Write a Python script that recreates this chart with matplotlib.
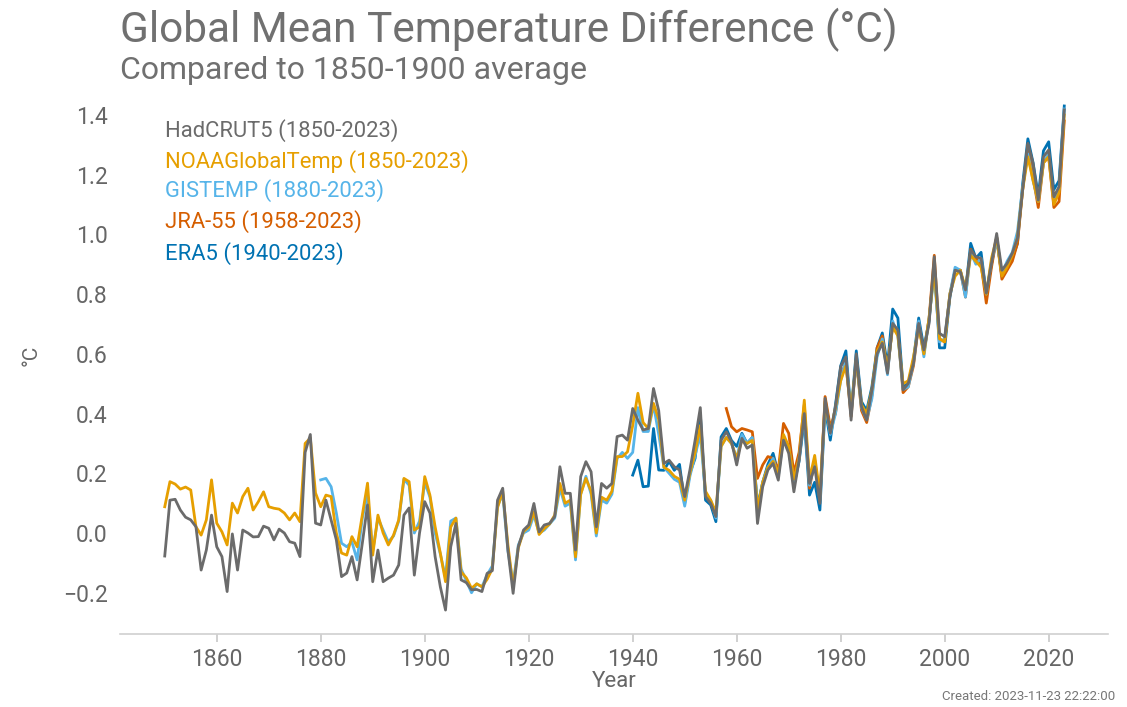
import numpy as np
import matplotlib
matplotlib.use("Agg")
import matplotlib.pyplot as plt

plt.rcParams['font.family'] = ['Roboto', 'DejaVu Sans']

years_had = list(range(1850, 2024))
hadcrut5 = [
    -0.077, 0.110, 0.113, 0.077, 0.053, 0.044, 0.021, -0.124, -0.057, 0.060,
    -0.046, -0.079, -0.196, -0.003, -0.124, 0.010, 0.000, -0.013, -0.012, 0.023,
    0.016, -0.023, 0.013, 0.000, -0.029, -0.034, -0.079, 0.270, 0.330, 0.033,
    0.027, 0.110, 0.044, -0.023, -0.146, -0.134, -0.079, -0.157, -0.034, 0.094,
    -0.163, -0.057, -0.163, -0.151, -0.141, -0.107, 0.060, 0.084, -0.141, 0.000,
    0.105, 0.067, -0.079, -0.180, -0.258, -0.046, 0.032, -0.157, -0.166, -0.190,
    -0.189, -0.196, -0.135, -0.126, 0.110, 0.150, -0.057, -0.202, -0.046, 0.010,
    0.027, 0.099, 0.004, 0.027, 0.032, 0.055, 0.222, 0.133, 0.133, -0.057,
    0.189, 0.239, 0.205, 0.021, 0.166, 0.150, 0.166, 0.323, 0.328, 0.311,
    0.417, 0.378, 0.345, 0.350, 0.484, 0.410, 0.233, 0.244, 0.222, 0.211,
    0.122, 0.211, 0.311, 0.420, 0.122, 0.099, 0.055, 0.311, 0.339, 0.306,
    0.228, 0.317, 0.284, 0.295, 0.032, 0.155, 0.211, 0.233, 0.177, 0.311,
    0.267, 0.138, 0.244, 0.400, 0.166, 0.222, 0.099, 0.451, 0.334, 0.423,
    0.557, 0.590, 0.378, 0.600, 0.423, 0.378, 0.479, 0.600, 0.635, 0.535,
    0.702, 0.680, 0.479, 0.501, 0.568, 0.702, 0.613, 0.702, 0.925, 0.669,
    0.657, 0.791, 0.880, 0.875, 0.814, 0.948, 0.925, 0.920, 0.803, 0.903,
    1.003, 0.880, 0.903, 0.937, 0.987, 1.149, 1.305, 1.238, 1.115, 1.260,
    1.283, 1.126, 1.160, 1.417,
]

years_noaa = list(range(1850, 2024))
noaa = [
    0.088, 0.172, 0.164, 0.147, 0.154, 0.144, 0.021, -0.007, 0.044, 0.178,
    0.033, 0.004, -0.040, 0.100, 0.067, 0.122, 0.150, 0.077, 0.105, 0.138,
    0.088, 0.083, 0.080, 0.067, 0.044, 0.067, 0.038, 0.300, 0.318, 0.134,
    0.088, 0.127, 0.122, 0.000, -0.067, -0.074, -0.012, -0.046, 0.060, 0.167,
    -0.074, 0.060, 0.000, -0.040, -0.007, 0.044, 0.183, 0.172, 0.010, 0.021,
    0.189, 0.127, 0.021, -0.067, -0.163, 0.020, 0.050, -0.130, -0.150, -0.185,
    -0.170, -0.180, -0.155, -0.120, 0.085, 0.140, -0.040, -0.180, -0.050, 0.005,
    0.020, 0.070, -0.005, 0.015, 0.030, 0.060, 0.166, 0.100, 0.110, -0.080,
    0.130, 0.183, 0.140, 0.000, 0.120, 0.110, 0.140, 0.256, 0.256, 0.272,
    0.360, 0.468, 0.370, 0.350, 0.434, 0.380, 0.220, 0.210, 0.190, 0.180,
    0.110, 0.200, 0.270, 0.360, 0.140, 0.110, 0.070, 0.290, 0.320, 0.300,
    0.250, 0.310, 0.300, 0.310, 0.080, 0.170, 0.220, 0.240, 0.200, 0.330,
    0.290, 0.180, 0.250, 0.445, 0.180, 0.260, 0.130, 0.440, 0.340, 0.420,
    0.510, 0.560, 0.410, 0.580, 0.430, 0.400, 0.480, 0.610, 0.640, 0.550,
    0.690, 0.660, 0.500, 0.510, 0.590, 0.690, 0.600, 0.720, 0.880, 0.650,
    0.640, 0.800, 0.860, 0.880, 0.820, 0.930, 0.910, 0.890, 0.800, 0.920,
    0.990, 0.860, 0.890, 0.930, 0.990, 1.150, 1.260, 1.180, 1.110, 1.240,
    1.260, 1.100, 1.140, 1.400,
]

years_gis = list(range(1880, 2024))
gistemp = [
    0.178, 0.183, 0.155, 0.067, -0.034, -0.046, -0.030, -0.090, 0.050, 0.130,
    -0.060, 0.050, 0.010, -0.030, -0.010, 0.040, 0.180, 0.160, 0.000, 0.040,
    0.170, 0.120, 0.000, -0.070, -0.150, 0.040, 0.050, -0.120, -0.160, -0.200,
    -0.170, -0.180, -0.140, -0.110, 0.090, 0.130, -0.060, -0.170, -0.040, 0.000,
    0.010, 0.060, 0.000, 0.010, 0.030, 0.050, 0.150, 0.090, 0.100, -0.090,
    0.130, 0.190, 0.130, -0.010, 0.110, 0.100, 0.130, 0.250, 0.270, 0.250,
    0.270, 0.420, 0.340, 0.340, 0.430, 0.330, 0.220, 0.200, 0.180, 0.170,
    0.090, 0.190, 0.260, 0.330, 0.130, 0.110, 0.050, 0.290, 0.320, 0.300,
    0.250, 0.330, 0.300, 0.320, 0.080, 0.170, 0.220, 0.250, 0.190, 0.320,
    0.290, 0.170, 0.250, 0.390, 0.160, 0.240, 0.110, 0.430, 0.330, 0.400,
    0.510, 0.580, 0.400, 0.580, 0.420, 0.380, 0.450, 0.590, 0.650, 0.530,
    0.710, 0.660, 0.480, 0.490, 0.570, 0.710, 0.590, 0.720, 0.870, 0.640,
    0.650, 0.800, 0.890, 0.880, 0.790, 0.940, 0.900, 0.920, 0.800, 0.910,
    0.980, 0.870, 0.910, 0.940, 1.010, 1.160, 1.270, 1.180, 1.110, 1.240,
    1.270, 1.110, 1.150, 1.420,
]

years_jra = list(range(1958, 2024))
jra55 = [
    0.417, 0.356, 0.339, 0.350, 0.345, 0.339, 0.183, 0.228, 0.256, 0.250,
    0.211, 0.367, 0.334, 0.200, 0.270, 0.430, 0.150, 0.244, 0.110, 0.457,
    0.356, 0.400, 0.530, 0.570, 0.390, 0.580, 0.410, 0.370, 0.460, 0.620,
    0.660, 0.540, 0.700, 0.670, 0.470, 0.490, 0.560, 0.700, 0.600, 0.720,
    0.930, 0.650, 0.640, 0.800, 0.880, 0.880, 0.790, 0.950, 0.920, 0.900,
    0.770, 0.890, 0.990, 0.850, 0.880, 0.910, 0.970, 1.150, 1.300, 1.190,
    1.090, 1.240, 1.260, 1.090, 1.110, 1.380,
]

years_era = list(range(1940, 2024))
era5 = [
    0.194, 0.244, 0.155, 0.157, 0.350, 0.211, 0.210, 0.240, 0.210, 0.230,
    0.100, 0.200, 0.250, 0.400, 0.110, 0.094, 0.038, 0.322, 0.350, 0.310,
    0.290, 0.334, 0.300, 0.320, 0.090, 0.170, 0.230, 0.267, 0.200, 0.320,
    0.280, 0.160, 0.240, 0.380, 0.127, 0.170, 0.077, 0.420, 0.311, 0.430,
    0.560, 0.610, 0.400, 0.610, 0.440, 0.410, 0.490, 0.620, 0.670, 0.560,
    0.750, 0.720, 0.490, 0.500, 0.580, 0.720, 0.620, 0.710, 0.900, 0.620,
    0.620, 0.790, 0.880, 0.880, 0.810, 0.970, 0.920, 0.940, 0.800, 0.900,
    0.990, 0.860, 0.890, 0.920, 0.970, 1.170, 1.320, 1.240, 1.130, 1.280,
    1.310, 1.150, 1.180, 1.430,
]

labels = ["HadCRUT5 (1850-2023)", "NOAAGlobalTemp (1850-2023)", "GISTEMP (1880-2023)",
          "JRA-55 (1958-2023)", "ERA5 (1940-2023)"]
colors = ["#6b6b6b", "#E69F00", "#56B4E9", "#D55E00", "#0072B2"]

fig = plt.figure(figsize=(11.27, 7.07), dpi=100)
ax = fig.add_axes([0.1065, 0.1033, 0.8766, 0.7637])

lw = 2.0
ax.plot(years_era, era5, color=colors[4], lw=lw, zorder=2)
ax.plot(years_jra, jra55, color=colors[3], lw=lw, zorder=3)
ax.plot(years_gis, gistemp, color=colors[2], lw=lw, zorder=4)
ax.plot(years_noaa, noaa, color=colors[1], lw=lw, zorder=5)
ax.plot(years_had, hadcrut5, color=colors[0], lw=lw, zorder=6)

ax.set_xlim(1841.4, 2031.4)
ax.set_ylim(-0.338, 1.47)
ax.set_xticks([1860, 1880, 1900, 1920, 1940, 1960, 1980, 2000, 2020])
ax.set_yticks([-0.2, 0.0, 0.2, 0.4, 0.6, 0.8, 1.0, 1.2, 1.4])
ax.set_yticklabels(["\u22120.2", "0.0", "0.2", "0.4", "0.6", "0.8", "1.0", "1.2", "1.4"])

for s in ["top", "right", "left"]:
    ax.spines[s].set_visible(False)
ax.spines["bottom"].set_color("#d0d0d0")
ax.spines["bottom"].set_linewidth(1.2)
ax.tick_params(axis="x", colors="#666666", labelsize=16.5, length=6, width=1.2,
               color="#c8c8c8", pad=4)
ax.tick_params(axis="y", colors="#666666", labelsize=16.5, length=0, pad=9)

ax.set_xlabel("Year", fontsize=16, color="#666666", labelpad=0)
fig.text(0.028, 0.498, "\u00b0C", rotation=90, fontsize=15, color="#666666",
         ha="center", va="center")

fig.text(0.1065, 0.9406, "Global Mean Temperature Difference (\u00b0C)", fontsize=30.5,
         color="#707070", ha="left", va="baseline")
fig.text(0.1065, 0.888, "Compared to 1850-1900 average", fontsize=23,
         color="#707070", ha="left", va="baseline")

leg_y = [0.816, 0.772, 0.730, 0.686, 0.642]
for lab, c, y in zip(labels, colors, leg_y):
    fig.text(0.1465, y, lab, fontsize=15.8, color=c, ha="left", va="center")

fig.text(0.99, 0.006, "Created: 2023-11-23 22:22:00", fontsize=9.5, color="#777777",
         ha="right", va="bottom")

fig.savefig("out.png", dpi=100)
